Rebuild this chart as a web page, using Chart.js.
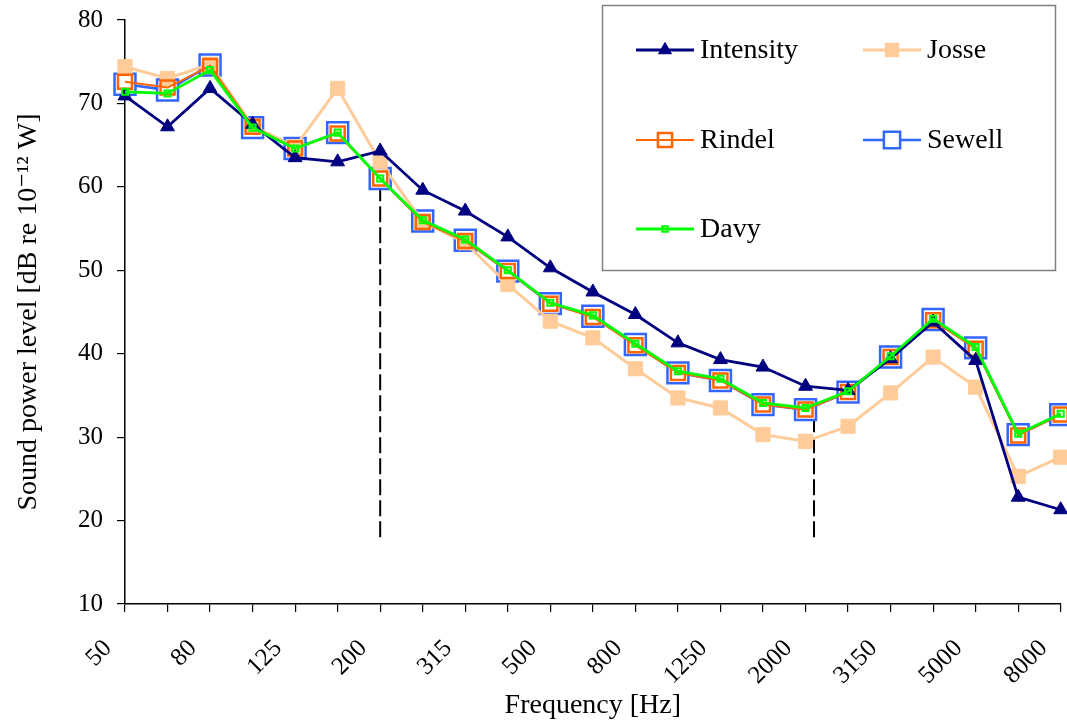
<!DOCTYPE html>
<html><head><meta charset="utf-8">
<script src="https://cdn.jsdelivr.net/npm/chart.js@4.4.1/dist/chart.umd.min.js"></script>
<style>html,body{margin:0;padding:0;background:#fff;overflow:hidden}#wrap{width:1078px;height:722px;position:relative}</style>
</head><body><div id="wrap"><canvas id="c"></canvas></div>
<script>
const categories = ['50','63','80','100','125','160','200','250','315','400','500','630','800','1000','1250','1600','2000','2500','3150','4000','5000','6300','8000'];
const xTickLabels = ['50','80','125','200','315','500','800','1250','2000','3150','5000','8000'];
const yTicks = [10,20,30,40,50,60,70,80];
const intensity = [70.9,67.2,71.8,67.5,63.5,63.0,64.3,59.6,57.1,54.0,50.3,47.4,44.7,41.3,39.3,38.4,36.1,35.6,39.4,43.8,39.2,22.8,21.3];
const josse     = [74.4,73.0,74.7,67.3,64.8,71.8,63.0,55.8,53.3,48.3,43.9,41.9,38.2,34.7,33.5,30.3,29.5,31.3,35.3,39.6,36.0,25.3,27.6];
const rindel    = [72.6,71.9,74.5,67.2,64.6,66.4,61.0,55.8,53.5,49.9,46.0,44.4,41.0,37.7,36.8,33.9,33.3,35.4,39.6,44.0,40.6,30.2,32.7];
const sewell    = [72.3,71.6,74.6,67.1,64.6,66.5,61.0,55.9,53.6,49.9,46.0,44.5,41.1,37.7,36.8,33.9,33.3,35.4,39.6,44.1,40.7,30.3,32.7];
const davy      = [71.4,71.2,74.0,67.1,64.6,66.5,61.0,56.0,53.7,50.0,46.1,44.6,41.2,37.9,37.0,34.1,33.5,35.5,39.7,44.2,40.8,30.4,32.8];
// dashed range markers (category index position, top value); common bottom value
const rangeMarkerIndex = [6, 16.2];
const rangeMarkerTop = [61, 33.4];
const rangeMarkerBottom = 18;

const FONT = "'Liberation Serif', 'DejaVu Serif', serif";

const datasets = [
  {label:'Intensity', data:intensity, borderColor:'#000080', backgroundColor:'#000080', borderWidth:2.8,
   pointStyle:'triangle', pointRadius:8, pointBorderWidth:1, pointBackgroundColor:'#000080', pointBorderColor:'#000080', order:2, legendRadius:7.5},
  {label:'Josse', data:josse, borderColor:'#FFCC99', backgroundColor:'#FFCC99', borderWidth:3,
   pointStyle:'rect', pointRadius:10, pointBorderWidth:1, pointBackgroundColor:'#FFCC99', pointBorderColor:'#FFCC99', order:4, legendRadius:9.5},
  {label:'Rindel', data:rindel, borderColor:'#FF6600', backgroundColor:'rgba(0,0,0,0)', borderWidth:2,
   pointStyle:'rect', pointRadius:9.9, pointBorderWidth:2.5, pointBackgroundColor:'rgba(0,0,0,0)', pointBorderColor:'#FF6600', order:3, legendRadius:10},
  {label:'Sewell', data:sewell, borderColor:'#3366FF', backgroundColor:'#ffffff', borderWidth:2.5,
   pointStyle:'rect', pointRadius:14.8, pointBorderWidth:2.5, pointBackgroundColor:'#ffffff', pointBorderColor:'#3366FF', order:5, legendRadius:11.5},
  {label:'Davy', data:davy, borderColor:'#00FF00', backgroundColor:'rgba(0,0,0,0)', borderWidth:2.8,
   pointStyle:'rect', pointRadius:4.3, pointBorderWidth:2, pointBackgroundColor:'rgba(0,0,0,0)', pointBorderColor:'#00FF00', order:1, legendRadius:4}
];
datasets.forEach(d => { d.fill = false; d.tension = 0; d.clip = false; d.pointHoverRadius = d.pointRadius; });

const rangeMarkers = {
  id:'rangeMarkers',
  beforeDatasetsDraw(chart){
    const {ctx, scales:{x, y}} = chart;
    ctx.save();
    ctx.strokeStyle = '#000'; ctx.lineWidth = 2; ctx.setLineDash([16,5]);
    rangeMarkerIndex.forEach((idx, i) => {
      const i0 = Math.floor(idx), f = idx - i0;
      const px = x.getPixelForValue(i0) + f * (x.getPixelForValue(i0 + 1) - x.getPixelForValue(i0));
      ctx.beginPath();
      ctx.moveTo(px, y.getPixelForValue(rangeMarkerBottom));
      ctx.lineTo(px, y.getPixelForValue(rangeMarkerTop[i]));
      ctx.stroke();
    });
    ctx.restore();
  }
};

const boxLegend = {
  id:'boxLegend',
  afterDraw(chart){
    const ctx = chart.ctx;
    ctx.save();
    ctx.strokeStyle = '#7f7f7f'; ctx.lineWidth = 1.5; ctx.setLineDash([]);
    ctx.fillStyle = '#fff';
    ctx.fillRect(602.5, 5.5, 453, 265);
    ctx.strokeRect(602.5, 5.5, 453, 265);
    const cols = [636, 863], rows = [50, 140, 229];
    chart.data.datasets.forEach((d, i) => {
      const cx = cols[i % 2], cy = rows[Math.floor(i / 2)];
      ctx.strokeStyle = d.borderColor; ctx.lineWidth = d.borderWidth;
      ctx.beginPath(); ctx.moveTo(cx, cy); ctx.lineTo(cx + 58, cy); ctx.stroke();
      ctx.fillStyle = d.pointBackgroundColor; ctx.strokeStyle = d.pointBorderColor; ctx.lineWidth = d.pointBorderWidth;
      Chart.helpers.drawPoint(ctx, {pointStyle:d.pointStyle, radius:d.legendRadius, rotation:0, borderWidth:d.pointBorderWidth}, cx + 29, cy);
      ctx.fillStyle = '#000'; ctx.font = "28px " + FONT; ctx.textBaseline = 'middle'; ctx.textAlign = 'left';
      ctx.fillText(d.label, cx + 64, cy + 1);
    });
    ctx.restore();
  }
};

new Chart(document.getElementById('c'), {
  type:'line',
  data:{labels:categories, datasets},
  options:{
    responsive:true, maintainAspectRatio:false, animation:false,
    layout:{padding:{left:0, right:6, top:20, bottom:0}},
    plugins:{legend:{display:false}, tooltip:{enabled:false}},
    scales:{
      x:{
        type:'category', offset:false,
        grid:{display:true, drawOnChartArea:false, drawTicks:true, tickLength:8, color:'#000', lineWidth:1.2},
        border:{display:true, color:'#000', width:1.5},
        ticks:{autoSkip:false, maxRotation:45, minRotation:45, color:'#000', font:{family:FONT, size:25}, padding:22, labelOffset:-17,
          callback:(v, i) => xTickLabels.includes(categories[i]) ? categories[i] : ''},
        title:{display:true, text:'Frequency [Hz]', color:'#000', font:{family:FONT, size:28}, padding:{top:0, bottom:0}},
        afterFit:(s) => { s.height = 118; s.paddingLeft = 0; s.paddingRight = 0; }
      },
      y:{
        min:10, max:80,
        afterBuildTicks:(s) => { s.ticks = yTicks.map(v => ({value:v})); },
        grid:{display:true, drawOnChartArea:false, drawTicks:true, tickLength:8, color:'#000', lineWidth:1.2},
        border:{display:true, color:'#000', width:1.5},
        ticks:{color:'#000', font:{family:FONT, size:25}, padding:14},
        title:{display:true, text:'Sound power level [dB re 10\u207B\u00B9\u00B2 W]', color:'#000', font:{family:FONT, size:28}, padding:{top:12, bottom:0}},
        afterFit:(s) => { s.width = 125; s.paddingTop = 0; s.paddingBottom = 0; }
      }
    }
  },
  plugins:[rangeMarkers, boxLegend]
});
</script></body></html>
